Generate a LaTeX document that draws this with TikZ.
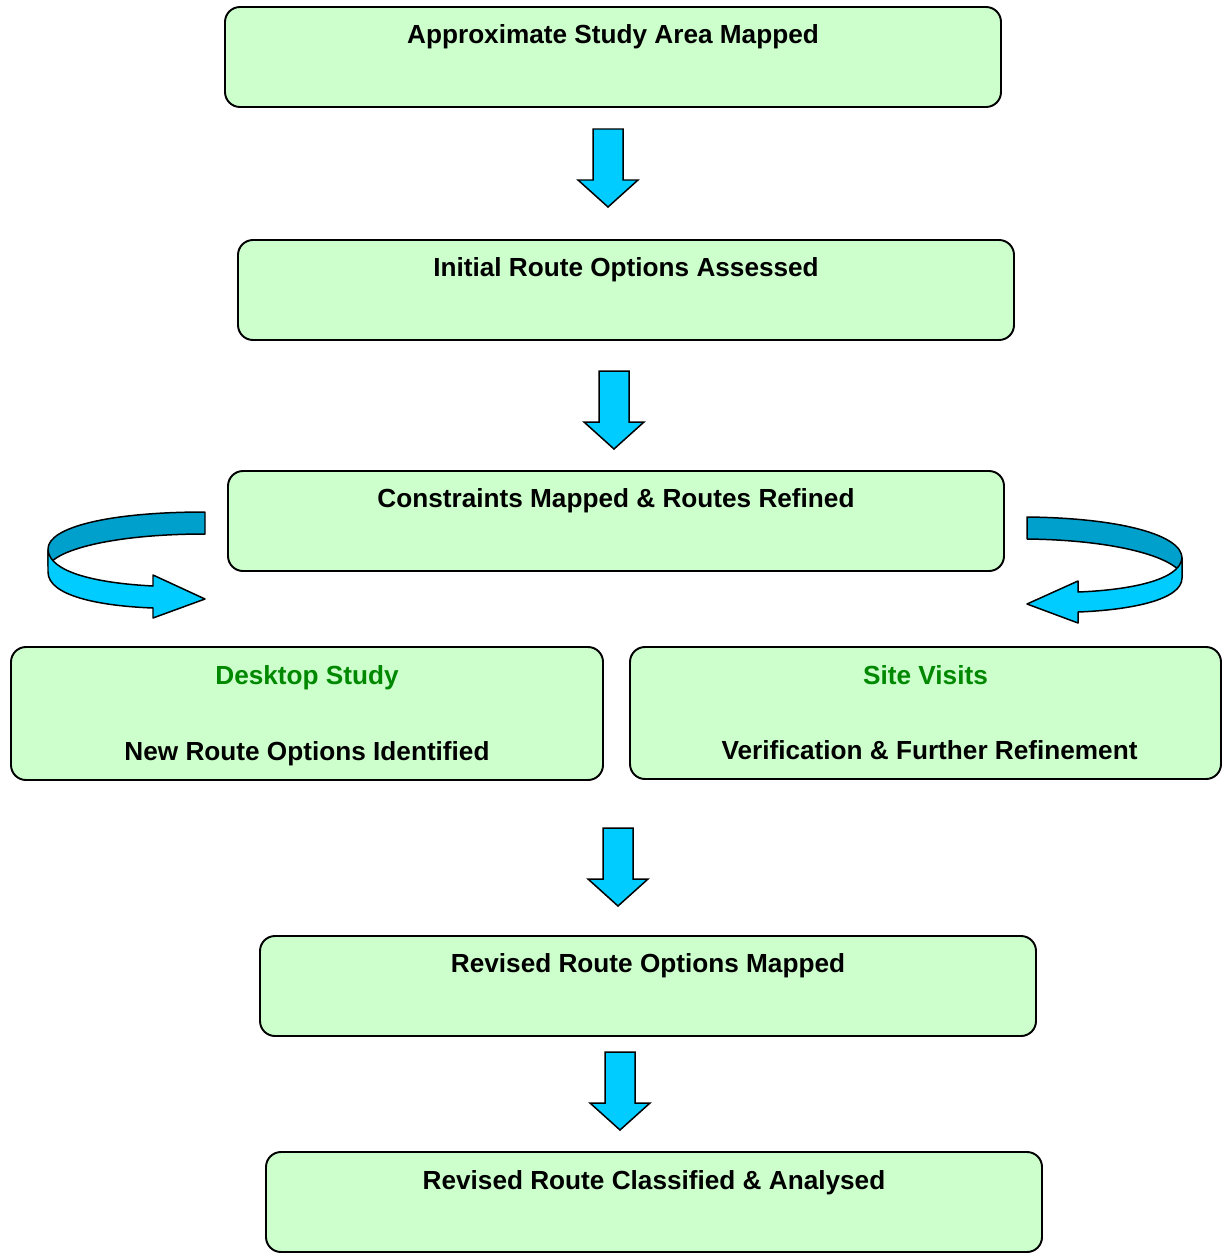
\documentclass[tikz,border=0pt]{standalone}
\usepackage{fontspec}
\setmainfont{Liberation Sans}
\usetikzlibrary{calc}
\definecolor{boxgreen}{RGB}{204,255,204}
\definecolor{textgreen}{RGB}{0,136,0}
\definecolor{arrowblue}{RGB}{0,204,255}
\definecolor{arrowdark}{RGB}{0,160,204}
\tikzset{
  stepbox/.style={draw, line width=1.1pt, rounded corners=0.3cm, fill=boxgreen,
    minimum width=776*0.02cm, minimum height=100*0.02cm, inner sep=0pt},
  widebox/.style={stepbox, minimum width=592*0.02cm, minimum height=133*0.02cm},
  steptext/.style={font=\fontsize{14.9}{17}\selectfont\bfseries, inner sep=0pt, anchor=base},
  greentext/.style={steptext, text=textgreen},
  arrfill/.style={fill=arrowblue, draw=black, line width=0.85pt, line join=miter},
  darkfill/.style={fill=arrowdark, draw=black, line width=0.85pt, line join=round},
  downarr/.pic={
    \draw[arrfill] (-15,0) -- (15,0) -- (15,51) -- (30,51) -- (0,78) -- (-30,51) -- (-15,51) -- cycle;
  }
}
\begin{document}
\begin{tikzpicture}[x=0.02cm, y=-0.02cm]
  \useasboundingbox (0,0) rectangle (1225,1257);
  % boxes
  \node[stepbox] (b1) at (613,57) {};
  \node[stepbox] (b2) at (626,290) {};
  \node[stepbox] (b3) at (616,521) {};
  \node[widebox] (b4) at (307,713.5) {};
  \node[widebox, minimum width=591*0.02cm, minimum height=132*0.02cm] (b5) at (925.5,713) {};
  \node[stepbox] (b6) at (648,986) {};
  \node[stepbox] (b7) at (654,1202) {};
  % texts (on their baselines)
  \node[steptext] (t1) at ($(b1.north)+(0,37)$) {Approximate Study Area Mapped};
  \node[steptext] (t2) at ($(b2.north)+(0,37)$) {Initial Route Options Assessed};
  \node[steptext] (t3) at ($(b3.north)+(0,37)$) {Constraints Mapped \& Routes Refined};
  \node[greentext] (t4) at ($(b4.north)+(0,38)$) {Desktop Study};
  \node[steptext] (t4b) at ($(b4.north)+(0,114)$) {New Route Options Identified};
  \node[greentext] (t5) at ($(b5.north)+(0,38)$) {Site Visits};
  \node[steptext] (t5b) at ($(b5.north)+(4,113)$) {Verification \& Further Refinement};
  \node[steptext] (t6) at ($(b6.north)+(0,37)$) {Revised Route Options Mapped};
  \node[steptext] (t7) at ($(b7.north)+(0,38)$) {Revised Route Classified \& Analysed};
  % straight block arrows
  \pic at (608,129) {downarr};
  \pic at (614,371) {downarr};
  \pic at (618,828) {downarr};
  \pic at (620,1052) {downarr};
  % curved arrow, left
  \draw[darkfill] (205,512) .. controls (110,512) and (48,527) .. (48,549) -- (48,566)
    .. controls (58,548) and (120,534) .. (205,534) -- cycle;
  \draw[arrfill, line join=round] (48,550) -- (48,572) .. controls (48,596) and (100,606) .. (153,608)
    -- (153,618) -- (205,599) -- (153,575) -- (153,586)
    .. controls (95,583) and (50,572) .. (48,550) -- cycle;
  % curved arrow, right
  \draw[darkfill] (1027,517) .. controls (1120,518) and (1182,535) .. (1182,558) -- (1182,574)
    .. controls (1170,555) and (1110,540) .. (1027,539) -- cycle;
  \draw[arrfill, line join=round] (1182,558) -- (1182,578) .. controls (1182,600) and (1130,610) .. (1078,612)
    -- (1078,623) -- (1027,604) -- (1078,581) -- (1078,592)
    .. controls (1130,590) and (1180,580) .. (1182,558) -- cycle;
\end{tikzpicture}
\end{document}
